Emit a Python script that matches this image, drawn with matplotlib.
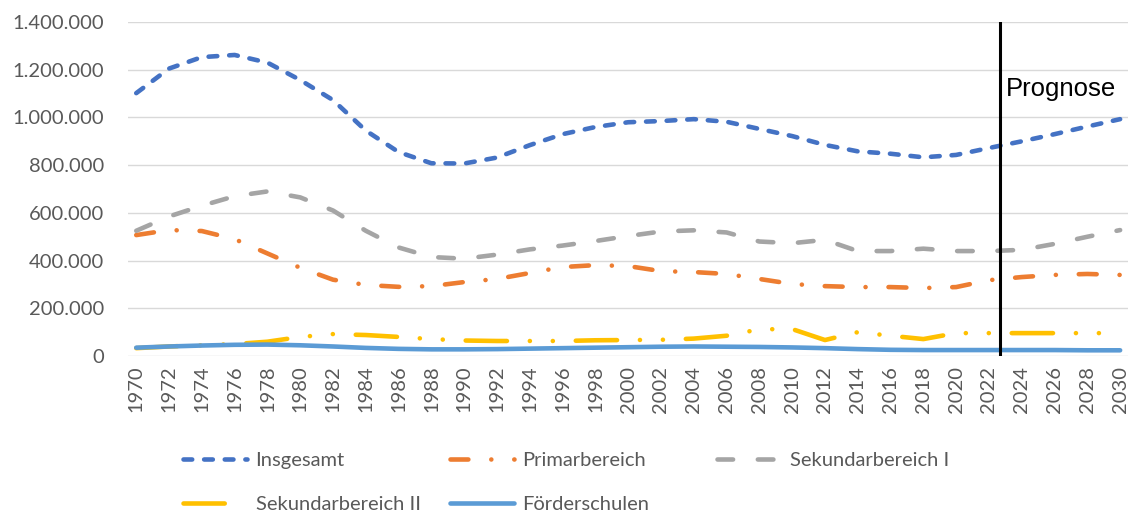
import numpy as np
import matplotlib.pyplot as plt
from matplotlib.ticker import FuncFormatter

# Data (every second year)
years = list(range(1970, 2031, 2))
insgesamt = [1102000, 1205000, 1253000, 1262000, 1230000, 1157000, 1073000, 945000,
             855000, 808000, 807000, 832000, 884000, 930000, 960000, 980000,
             985000, 993000, 982000, 952000, 922000, 885000, 858000, 848000,
             833000, 843000, 872000, 900000, 930000, 962000, 993000]
primarbereich = [507000, 528000, 524000, 490000, 430000, 370000, 320000, 298000,
                 290000, 293000, 310000, 323000, 348000, 373000, 381000, 377000,
                 356000, 352000, 344000, 323000, 302000, 293000, 289000, 289000,
                 285000, 289000, 318000, 331000, 340000, 344000, 340000]
sek1 = [525000, 585000, 630000, 670000, 690000, 665000, 610000, 525000,
        455000, 415000, 408000, 425000, 447000, 463000, 482000, 503000,
        522000, 527000, 518000, 480000, 473000, 487000, 440000, 440000,
        450000, 440000, 440000, 445000, 470000, 500000, 528000]
sek2 = [33000, 40000, 45000, 50000, 60000, 80000, 92000, 88000,
        80000, 71000, 65000, 63000, 63000, 63000, 66000, 67000,
        68000, 73000, 85000, 112000, 113000, 67000, 100000, 85000,
        71000, 96000, 96000, 96000, 96000, 96000, 96000]
foerderschulen = [35000, 40000, 44000, 47000, 48000, 45000, 40000, 34000,
                  30000, 28000, 28000, 29000, 31000, 33000, 35000, 37000,
                  39000, 40000, 39000, 38000, 36000, 33000, 29000, 26000,
                  25000, 25000, 25000, 25000, 25000, 24000, 24000]
prognose_start = 2022.7

labels = ["Insgesamt", "Primarbereich", "Sekundarbereich I",
          "Sekundarbereich II", "Förderschulen"]
colors = ["#4472C4", "#ED7D31", "#A5A5A5", "#FFC000", "#5B9BD5"]
dashes = [(1.9, 2.6), (3.9, 5.0, 0.01, 5.0), (3.4, 5.4),
          (9.0, 5.0, 0.01, 5.0, 0.01, 5.0), None]
series = [insgesamt, primarbereich, sek1, sek2, foerderschulen]

plt.rcParams['font.family'] = ['Lato', 'DejaVu Sans']
text_color = "#595959"

fig = plt.figure(figsize=(11.29, 5.13), dpi=100)
ax = fig.add_axes([0.1134, 0.306, 0.886, 0.651])

handles = []
for vals, lab, col, ds in zip(series, labels, colors, dashes):
    if ds is None:
        h, = ax.plot(years, vals, color=col, lw=3.3, solid_capstyle='round',
                     solid_joinstyle='round', label=lab)
    else:
        h, = ax.plot(years, vals, color=col, lw=3.3, dash_capstyle='round',
                     dash_joinstyle='round', label=lab)
        h.set_dashes(ds)
    handles.append(h)

ax.axvline(prognose_start, color="black", lw=2.2, zorder=5)
ax.text(prognose_start + 0.35, 1120000, "Prognose", fontsize=18.5,
        family="Liberation Sans", color="black", va="center", ha="left")

ax.set_xlim(1969.5, 2030.5)
ax.set_ylim(0, 1400000)
ax.set_xticks(years)
ax.set_xticklabels([str(y) for y in years], rotation=90)
ax.set_yticks(np.arange(0, 1400001, 200000))
ax.yaxis.set_major_formatter(FuncFormatter(lambda v, p: f"{int(v):,}".replace(",", ".")))
ax.tick_params(axis='both', length=0, labelsize=14.5, labelcolor=text_color)
ax.tick_params(axis='y', pad=17)
ax.tick_params(axis='x', pad=7)
ax.grid(axis='y', color="#D9D9D9", lw=1)
ax.set_axisbelow(True)
for s in ax.spines.values():
    s.set_visible(False)

# legend laid out in equal slots like the original
slots = [(183, 460), (450, 460), (717, 460), (183, 504), (450, 504)]
for h, lab, (px, py) in zip(handles, labels, slots):
    fig.legend([h], [lab], loc='center left',
               bbox_to_anchor=(px / 1129, 1 - py / 513),
               frameon=False, borderpad=0, borderaxespad=0,
               handlelength=3.2, handletextpad=0.4,
               prop={'size': 14.5}, labelcolor=text_color)

fig.savefig("out.png", dpi=100)
